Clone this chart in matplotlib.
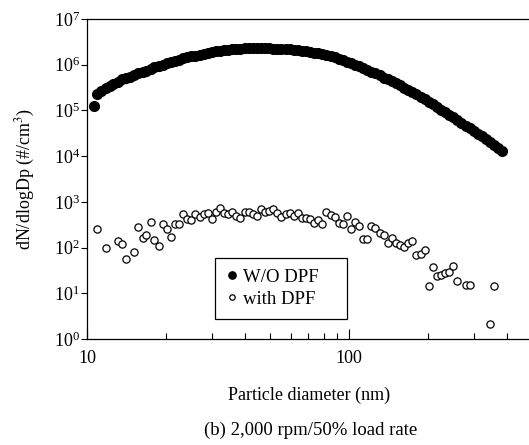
import numpy as np
import matplotlib
matplotlib.use("Agg")
from matplotlib import pyplot as plt
from matplotlib.ticker import LogLocator, LogFormatterSciNotation, NullFormatter

plt.rcParams['font.family'] = ['Liberation Serif', 'DejaVu Serif']
plt.rcParams['mathtext.fontset'] = 'stix'

# SMPS channel midpoints (nm), 64 channels per decade
diameter = [
    10.6, 10.9, 11.3, 11.8, 12.2, 12.6, 13.1, 13.6, 14.1, 14.6,
    15.1, 15.7, 16.3, 16.8, 17.5, 18.1, 18.8, 19.5, 20.2, 20.9,
    21.7, 22.5, 23.3, 24.1, 25.0, 25.9, 26.9, 27.9, 28.9, 30.0,
    31.1, 32.2, 33.4, 34.6, 35.9, 37.2, 38.5, 40.0, 41.4, 42.9,
    44.5, 46.1, 47.8, 49.6, 51.4, 53.3, 55.2, 57.3, 59.4, 61.5,
    63.8, 66.1, 68.5, 71.0, 73.7, 76.4, 79.1, 82.0, 85.1, 88.2,
    91.4, 94.7, 98.2, 101.8, 105.5, 109.4, 113.4, 117.6, 121.9, 126.3,
    131.0, 135.8, 140.7, 145.9, 151.2, 156.8, 162.5, 168.5, 174.7, 181.1,
    187.7, 194.6, 201.7, 209.1, 216.7, 224.7, 232.9, 241.4, 250.3, 259.5,
    269.0, 278.8, 289.0, 299.6, 310.6, 322.0, 333.8, 346.0, 358.7, 371.8,
    385.4,
]

# log10 of dN/dlogDp, without DPF
wo_dpf_log = [
    5.10, 5.37, 5.42, 5.48, 5.53, 5.58, 5.63, 5.68, 5.71, 5.74,
    5.77, 5.81, 5.84, 5.87, 5.91, 5.94, 5.97, 6.00, 6.03, 6.06,
    6.08, 6.11, 6.14, 6.16, 6.18, 6.20, 6.22, 6.24, 6.26, 6.27,
    6.29, 6.31, 6.32, 6.33, 6.34, 6.35, 6.35, 6.36, 6.36, 6.36,
    6.36, 6.36, 6.36, 6.36, 6.35, 6.35, 6.35, 6.34, 6.34, 6.33,
    6.32, 6.31, 6.29, 6.28, 6.26, 6.25, 6.23, 6.21, 6.19, 6.16,
    6.13, 6.10, 6.07, 6.03, 6.00, 5.97, 5.93, 5.89, 5.85, 5.81,
    5.77, 5.72, 5.68, 5.64, 5.59, 5.55, 5.50, 5.45, 5.40, 5.35,
    5.30, 5.25, 5.19, 5.14, 5.08, 5.02, 4.97, 4.91, 4.85, 4.79,
    4.73, 4.67, 4.61, 4.55, 4.49, 4.43, 4.37, 4.31, 4.25, 4.18,
    4.12,
]

# log10 of dN/dlogDp, with DPF (None = no count in that channel)
with_dpf_log = [
    None, 2.41, None, 1.98, None, None, 2.14, 2.08, 1.76, None,
    1.90, 2.45, 2.20, 2.27, 2.56, 2.16, 2.03, 2.51, 2.40, 2.24,
    2.51, 2.51, 2.73, 2.62, 2.60, 2.73, 2.67, 2.73, 2.75, 2.62,
    2.77, 2.86, 2.75, 2.73, 2.77, 2.70, 2.65, 2.77, 2.77, 2.73,
    2.70, 2.84, 2.77, 2.80, 2.84, 2.75, 2.66, 2.73, 2.75, 2.70,
    2.75, 2.64, 2.65, 2.62, 2.53, 2.60, 2.51, 2.78, 2.71, 2.67,
    2.54, 2.52, 2.69, 2.40, 2.56, 2.48, 2.19, 2.19, 2.47, 2.42,
    2.32, 2.27, 2.10, 2.22, 2.09, 2.05, 2.02, 2.11, 2.15, 1.84,
    1.86, 1.95, 1.16, 1.57, 1.38, 1.40, 1.44, 1.46, 1.59, 1.27,
    None, 1.18, 1.18, None, None, None, None, 0.33, 1.16, None,
    None,
]

dp = np.array(diameter)
wo = 10 ** np.array(wo_dpf_log, dtype=float)
wi = 10 ** np.array([np.nan if v is None else v for v in with_dpf_log], dtype=float)

fig = plt.figure(figsize=(5.29, 4.45), dpi=100)
ax = fig.add_axes([87 / 529, 106 / 445, 445 / 529, 320 / 445])

ax.plot(dp, wo, 'o', ls='none', ms=7.0, mfc='black', mec='black', label='W/O DPF')
ax.plot(dp, wi, 'o', ls='none', ms=5.2, mfc='white', mec='black', mew=0.9, label='with DPF')

ax.set_xscale('log')
ax.set_yscale('log')
ax.set_xlim(10, 500)
ax.set_ylim(1, 1e7)

ax.xaxis.set_major_locator(LogLocator(base=10, numticks=10))
ax.xaxis.set_minor_locator(LogLocator(base=10, subs=np.arange(2, 10), numticks=10))
ax.xaxis.set_minor_formatter(NullFormatter())
ax.xaxis.set_major_formatter(plt.FuncFormatter(lambda v, p: '%d' % v))
ax.yaxis.set_major_locator(LogLocator(base=10, numticks=10))
ax.yaxis.set_minor_locator(plt.NullLocator())
ax.yaxis.set_major_formatter(LogFormatterSciNotation())

ax.tick_params(axis='x', which='major', direction='in', length=7, width=0.8, labelsize=13, pad=8)
ax.tick_params(axis='x', which='minor', direction='in', length=4, width=0.8)
ax.tick_params(axis='y', which='major', direction='out', length=4, width=0.8, labelsize=13, pad=1)

for side in ['left', 'bottom', 'top']:
    ax.spines[side].set_linewidth(0.9)
ax.spines['right'].set_visible(False)

ax.set_xlabel('Particle diameter (nm)', fontsize=13, labelpad=14)
ax.set_ylabel('dN/dlogDp (#/cm$^3$)', fontsize=13, labelpad=12)

# legend box stretched to a fixed width, entries left-aligned inside
leg = ax.legend(loc='lower left', bbox_to_anchor=(0.288, 0.0625, 0.296, 0.2),
                mode='expand', fontsize=13.5,
                frameon=True, fancybox=False, edgecolor='black', framealpha=1,
                handlelength=0.6, handletextpad=0.3, borderpad=0.6,
                labelspacing=0.25, markerscale=0.75, borderaxespad=0)
leg.get_frame().set_linewidth(0.9)

fig.text(311 / 529, 1 - 430 / 445, '(b) 2,000 rpm/50% load rate', fontsize=13.5,
         ha='center', va='center')

fig.savefig('out.png', dpi=100)
